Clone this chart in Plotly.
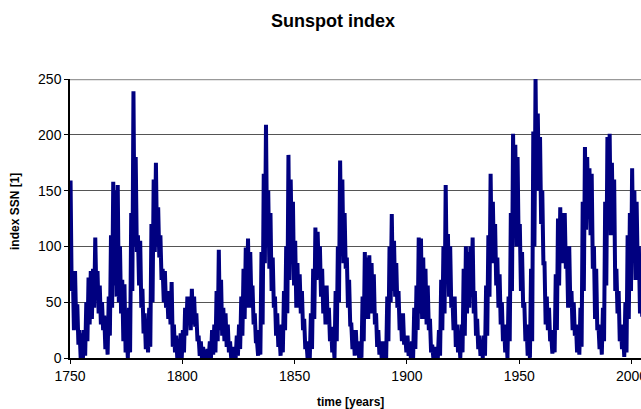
import plotly.graph_objects as go

# yearly envelope of the monthly sunspot number
years = list(range(1750, 2006))

ssn_high = [
    159, 78, 78, 48, 25, 22, 25, 50, 72, 78,
    80, 108, 78, 65, 50, 38, 25, 55, 110, 158,
    150, 155, 100, 70, 66, 20, 45, 130, 239, 180,
    110, 105, 62, 40, 22, 45, 120, 160, 175, 135,
    110, 80, 78, 60, 60, 68, 30, 20, 15, 22,
    25, 45, 55, 55, 62, 55, 40, 20, 15, 10,
    2, 8, 15, 25, 30, 60, 97, 70, 45, 40,
    30, 15, 10, 8, 20, 30, 55, 80, 99, 107,
    95, 65, 40, 15, 25, 95, 165, 209, 150, 130,
    90, 55, 40, 20, 30, 60, 100, 182, 160, 140,
    105, 85, 75, 60, 35, 15, 12, 40, 80, 117,
    113, 100, 80, 65, 65, 45, 28, 15, 60, 100,
    177, 160, 130, 90, 70, 30, 25, 25, 10, 15,
    55, 95, 90, 92, 85, 75, 40, 25, 15, 15,
    15, 55, 100, 129, 105, 85, 60, 40, 40, 20,
    20, 10, 15, 45, 65, 108, 107, 90, 80, 65,
    35, 12, 10, 8, 25, 70, 100, 155, 111, 100,
    55, 55, 30, 15, 30, 80, 100, 95, 100, 108,
    60, 35, 20, 15, 20, 65, 110, 165, 140, 120,
    90, 75, 50, 30, 20, 55, 130, 201, 191, 180,
    120, 95, 50, 30, 12, 80, 203, 250, 219, 198,
    150, 85, 55, 45, 20, 25, 75, 125, 135, 130,
    130, 95, 100, 60, 50, 30, 25, 45, 140, 189,
    180, 170, 165, 100, 80, 30, 25, 45, 140, 198,
    201, 175, 160, 80, 60, 30, 20, 50, 110, 130,
    170, 150, 140, 100, 82, 60,
]

ssn_low = [
    60, 25, 30, 12, 0, 0, 2, 15, 30, 35,
    45, 55, 40, 30, 25, 8, 3, 20, 45, 65,
    55, 50, 40, 15, 5, 0, 5, 60, 100, 95,
    65, 45, 22, 8, 5, 10, 50, 95, 100, 90,
    70, 50, 45, 35, 30, 10, 5, 0, 0, 0,
    5, 20, 30, 25, 30, 28, 15, 2, 0, 0,
    0, 0, 0, 3, 5, 15, 25, 20, 15, 10,
    5, 0, 0, 0, 2, 8, 20, 35, 45, 45,
    50, 30, 15, 2, 3, 30, 85, 100, 80, 60,
    45, 20, 10, 2, 5, 25, 40, 70, 95, 65,
    45, 45, 40, 25, 8, 0, 0, 8, 35, 70,
    75, 55, 40, 30, 30, 15, 5, 0, 15, 50,
    100, 85, 80, 45, 30, 8, 2, 3, 0, 0,
    15, 35, 35, 40, 40, 30, 10, 3, 0, 0,
    0, 15, 50, 60, 55, 45, 25, 15, 12, 5,
    2, 0, 0, 8, 25, 40, 35, 35, 30, 25,
    5, 0, 0, 0, 2, 25, 40, 70, 55, 45,
    25, 10, 5, 0, 5, 20, 40, 45, 55, 40,
    20, 8, 2, 0, 2, 20, 55, 85, 85, 65,
    45, 30, 15, 5, 0, 15, 60, 110, 100, 100,
    60, 45, 15, 2, 0, 15, 100, 150, 150, 120,
    85, 30, 25, 15, 4, 5, 25, 65, 85, 85,
    80, 45, 45, 25, 20, 5, 3, 10, 60, 115,
    125, 110, 80, 35, 25, 8, 3, 15, 65, 120,
    110, 110, 60, 40, 15, 8, 1, 5, 35, 60,
    90, 70, 80, 40, 37, 15,
]

# interleave high and low months inside each year
t, ssn = [], []
for yr, hi, lo in zip(years, ssn_high, ssn_low):
    t += [yr + 0.25, yr + 0.75]
    ssn += [hi, lo]

font = "Liberation Sans, Arial, sans-serif"

fig = go.Figure()
fig.add_trace(go.Scatter(x=t, y=ssn, mode="lines",
                         line=dict(color="#000080", width=4),
                         showlegend=False))

# grey frame line along the top of the plot area
fig.add_shape(type="line", xref="paper", yref="y", x0=0, x1=1, y0=250, y1=250,
              line=dict(color="#999999", width=2.5), layer="below")

fig.update_layout(
    width=641, height=409,
    margin=dict(l=70, r=0, t=79, b=51),
    paper_bgcolor="white", plot_bgcolor="white",
    font=dict(family=font, color="black", size=14),
    title=dict(text="<b>Sunspot index</b>", x=333 / 641, xref="container",
               xanchor="center", y=1 - 21 / 409, yref="container",
               yanchor="middle", font=dict(size=18)),
)
fig.update_xaxes(
    range=[1750, 2004.2], tickvals=[1750, 1800, 1850, 1900, 1950, 2000],
    ticks="outside", ticklen=4, tickcolor="black", showgrid=False,
    showline=True, linecolor="black", linewidth=1.5, zeroline=False,
    automargin=False, ticklabeloverflow="allow",
)
fig.update_yaxes(
    range=[0, 250], tickvals=[0, 50, 100, 150, 200, 250],
    ticks="outside", ticklen=4, tickcolor="black",
    showgrid=True, gridcolor="#555555", gridwidth=1,
    showline=True, linecolor="black", linewidth=1.5, zeroline=False,
    automargin=False,
)

# axis titles placed by hand
fig.add_annotation(text="<b>time [years]</b>", xref="paper", yref="paper",
                   x=(350 - 70) / 571, y=-(402 - 358) / 279, showarrow=False,
                   xanchor="center", yanchor="middle", font=dict(size=12))
fig.add_annotation(text="<b>index SSN [1]</b>", xref="paper", yref="paper",
                   x=-(70 - 15) / 571, y=(358 - 212) / 279, showarrow=False,
                   textangle=-90, xanchor="center", yanchor="middle",
                   font=dict(size=12))

# drop the default page margin so the figure sits at the window corner
fig.write_html("out.html", config={"displayModeBar": False},
               post_script="document.body.style.margin='0';"
                           "document.body.style.overflow='hidden';")
